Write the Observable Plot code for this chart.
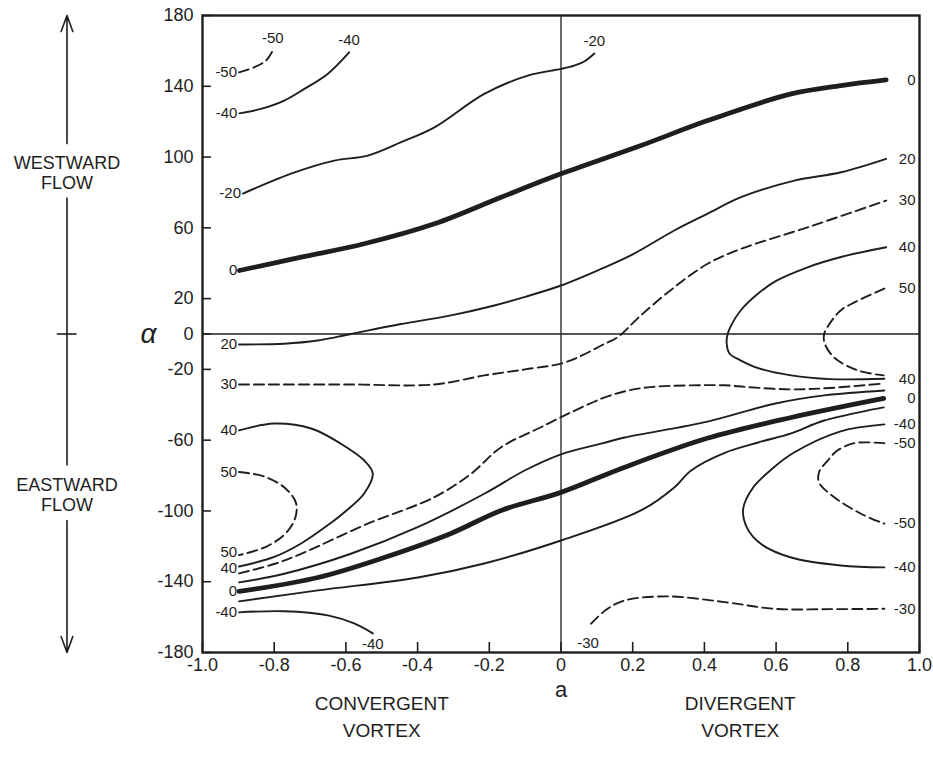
<!DOCTYPE html>
<html>
<head>
<meta charset="utf-8">
<script src="https://cdn.jsdelivr.net/npm/d3@7"></script>
<script src="https://cdn.jsdelivr.net/npm/@observablehq/plot@0.6"></script>
<style>
  body { margin: 0; background: #fff; }
  #chart svg { display: block; }
</style>
</head>
<body>
<div id="chart"></div>
<script>
// ---- axes ----
const xTicks = [-1, -0.8, -0.6, -0.4, -0.2, 0, 0.2, 0.4, 0.6, 0.8, 1];
const yTicks = [180, 140, 100, 60, 20, 0, -20, -60, -100, -140, -180];

// ---- contour lines, points as [a, alpha] ----
const cTopM50 = [[-0.898, 147.9], [-0.856, 150.7], [-0.823, 154.5], [-0.804, 160.2]];
const cTopM40 = [[-0.897, 124.7], [-0.837, 127.2], [-0.772, 131.9], [-0.716, 138.5], [-0.651, 147], [-0.591, 159.2]];
const cTopM20 = [[-0.887, 79.4], [-0.745, 91.2], [-0.632, 98], [-0.539, 100.8], [-0.446, 108.4], [-0.353, 116.8],
                 [-0.214, 135.7], [-0.093, 146], [0, 149.8], [0.037, 151.7], [0.065, 154], [0.093, 158.5]];
const cTop0 = [[-0.897, 35.9], [-0.725, 43.4], [-0.549, 51], [-0.353, 62.3], [-0.167, 77.3], [0, 90.5],
               [0.223, 106.5], [0.409, 120.6], [0.642, 135.7], [0.781, 140.4], [0.907, 143.6]];
const cTop20 = [[-0.898, -5.9], [-0.772, -5.5], [-0.679, -3.7], [-0.586, 0], [-0.45, 5.5], [-0.307, 10.5],
                [-0.186, 16.1], [-0.1, 21], [0, 27.4], [0.112, 36.8], [0.2, 45], [0.316, 58.5], [0.409, 68],
                [0.502, 77.3], [0.651, 86.7], [0.781, 91.4], [0.907, 99]];
const cTop30 = [[-0.898, -28.5], [-0.6, -28.5], [-0.353, -28.5], [-0.214, -23.4], [-0.1, -20], [0, -16.7],
                [0.06, -12], [0.112, -6.5], [0.158, -1.8], [0.22, 10], [0.316, 26.4], [0.409, 39.7],
                [0.502, 48.1], [0.688, 60.3], [0.907, 75.4]];
const cRight40 = [[0.907, 49], [0.781, 43.5], [0.688, 37.7], [0.6, 30], [0.549, 22.7], [0.5, 13], [0.475, 5],
                  [0.465, 0], [0.462, -5], [0.47, -11], [0.502, -15], [0.55, -19.3], [0.642, -23.4],
                  [0.75, -25.5], [0.902, -25.3]];
const cRight50 = [[0.902, 25.7], [0.82, 18], [0.78, 13.3], [0.75, 6], [0.734, 0], [0.735, -5], [0.762, -13.3],
                  [0.828, -20.6], [0.9, -23.4]];
const cLeft40 = [[-0.898, -54.5], [-0.8, -50.6], [-0.697, -53.4], [-0.614, -62], [-0.549, -71.5], [-0.525, -78.8],
                 [-0.549, -90.1], [-0.6, -100], [-0.65, -108], [-0.725, -118.4], [-0.8, -126], [-0.898, -131.4]];
const cLeft50 = [[-0.898, -78], [-0.828, -80.5], [-0.77, -87], [-0.74, -95], [-0.74, -103], [-0.765, -112],
                 [-0.82, -120], [-0.898, -125]];
const cLow30 = [[-0.898, -135.3], [-0.8, -130], [-0.725, -124.2], [-0.539, -107.2], [-0.353, -92.2],
                [-0.251, -79], [-0.167, -64], [-0.056, -52.7], [0, -47], [0.112, -36.6], [0.176, -32.5],
                [0.25, -30], [0.455, -29], [0.52, -30], [0.642, -31.3], [0.75, -30.5], [0.9, -28]];
const cLow20 = [[-0.898, -140.4], [-0.772, -135.5], [-0.586, -124.2], [-0.4, -109.2], [-0.214, -90.3],
                [-0.1, -77], [0, -68], [0.112, -62], [0.177, -58.5], [0.409, -49.5], [0.595, -39.4],
                [0.734, -34.7], [0.902, -31.9]];
const cLow0 = [[-0.898, -145.5], [-0.678, -137.6], [-0.493, -126.3], [-0.307, -112.7], [-0.167, -99.7],
               [0, -89.5], [0.176, -75.4], [0.41, -58.8], [0.642, -47.2], [0.9, -36.4]];
const cLowM20 = [[-0.898, -151.1], [-0.678, -144.9], [-0.399, -137.6], [-0.214, -129.7], [0, -116.7],
                 [0.223, -99.7], [0.316, -86.7], [0.363, -77.1], [0.455, -67.3], [0.55, -61.3], [0.642, -56.2],
                 [0.734, -48.9], [0.9, -41.5]];
const cLeftM40 = [[-0.898, -157.3], [-0.772, -156.7], [-0.65, -159], [-0.577, -163.6], [-0.525, -169.2]];
const cRightM40 = [[0.902, -51.1], [0.78, -55], [0.65, -67], [0.59, -76], [0.535, -87], [0.508, -99],
                   [0.52, -110], [0.56, -119], [0.642, -126.3], [0.78, -130.8], [0.902, -131.9]];
const cRightM50 = [[0.902, -61.7], [0.818, -61.7], [0.77, -66], [0.744, -71.5], [0.72, -78], [0.72, -84],
                   [0.762, -92.2], [0.837, -101.6], [0.902, -107.2]];
const cBottomM30 = [[0.084, -163.7], [0.125, -156], [0.177, -150.6], [0.298, -148.3], [0.456, -151.5],
                    [0.595, -155.3], [0.75, -155.5], [0.902, -155.3]];

// level of each line and where its number is written
const contourTable = [
  {id: "topM50", level: -50, pts: cTopM50, start: "left", end: "top"},
  {id: "topM40", level: -40, pts: cTopM40, start: "left", end: "top"},
  {id: "topM20", level: -20, pts: cTopM20, start: "left", end: "top"},
  {id: "top0", level: 0, pts: cTop0, start: "left", end: "right"},
  {id: "top20", level: 20, pts: cTop20, start: "left", end: "right"},
  {id: "top30", level: 30, pts: cTop30, start: "left", end: "right"},
  {id: "right40", level: 40, pts: cRight40, start: "right", end: "right"},
  {id: "right50", level: 50, pts: cRight50, start: "right", end: null},
  {id: "left40", level: 40, pts: cLeft40, start: "left", end: "leftDown"},
  {id: "left50", level: 50, pts: cLeft50, start: "left", end: "leftUp"},
  {id: "low30", level: 30, pts: cLow30, start: null, end: null},
  {id: "low20", level: 20, pts: cLow20, start: null, end: null},
  {id: "low0", level: 0, pts: cLow0, start: "left", end: "right"},
  {id: "lowM20", level: -20, pts: cLowM20, start: null, end: null},
  {id: "leftM40", level: -40, pts: cLeftM40, start: "left", end: "bottom"},
  {id: "rightM40", level: -40, pts: cRightM40, start: "right", end: "right"},
  {id: "rightM50", level: -50, pts: cRightM50, start: "right", end: "right"},
  {id: "bottomM30", level: -30, pts: cBottomM30, start: "bottom2", end: "right"}
];

const rows = contourTable.flatMap(c => c.pts.map(([x, y]) => ({id: c.id, level: c.level, x, y})));
const labels = contourTable.flatMap(c => {
  const out = [];
  const p0 = c.pts[0], p1 = c.pts[c.pts.length - 1];
  if (c.start) out.push({text: String(c.level), side: c.start, x: p0[0], y: p0[1]});
  if (c.end) out.push({text: String(c.level), side: c.end, x: p1[0], y: p1[1]});
  return out;
});
const isDashed = d => Math.abs(d.level) === 30 || Math.abs(d.level) === 50;
const isThick = d => d.level === 0;

// ---- side annotations ----
const flowArrowHeads = [{x1: -1.378, y1: 107.6, x2: -1.378, y2: 180}, {x1: -1.378, y1: -105.4, x2: -1.378, y2: -180}];
const flowArrowStems = [{x1: -1.378, y1: 77.1, x2: -1.378, y2: -74.3}];
const flowLabels = [{text: "WESTWARD\nFLOW", y: 91}, {text: "EASTWARD\nFLOW", y: -91}];
const vortexLabels = [{text: "CONVERGENT\nVORTEX", x: -0.5}, {text: "DIVERGENT\nVORTEX", x: 0.5}];

const fmtX = d => d === 0 ? "0" : d.toFixed(1);
const labelFont = 15;
const ink = "#1e1e1e";

const chart = Plot.plot({
  width: 933,
  height: 767,
  marginLeft: 202,
  marginRight: 14,
  marginTop: 15,
  marginBottom: 115,
  style: {fontFamily: "'Liberation Sans', Arial, sans-serif", fontSize: "18px", color: ink, background: "#fff"},
  x: {domain: [-1, 1], ticks: xTicks, tickFormat: fmtX, tickSize: 0, tickPadding: 6, label: null},
  y: {domain: [-180, 180], ticks: yTicks, tickFormat: d => String(d), tickSize: 0, tickPadding: 9, label: null},
  marks: [
    Plot.ruleX([0], {stroke: ink, strokeWidth: 1.3}),
    Plot.ruleY([0], {stroke: ink, strokeWidth: 1.3}),
    // inward tick marks
    Plot.ruleY(yTicks, {x1: -1, x2: -0.975, stroke: ink, strokeWidth: 1.6}),
    Plot.ruleX(xTicks, {y1: -180, y2: -174.3, stroke: ink, strokeWidth: 1.6}),
    Plot.line(rows.filter(d => !isDashed(d) && !isThick(d)), {x: "x", y: "y", z: "id", curve: "catmull-rom", stroke: ink, strokeWidth: 1.9}),
    Plot.line(rows.filter(isDashed), {x: "x", y: "y", z: "id", curve: "catmull-rom", stroke: ink, strokeWidth: 1.9, strokeDasharray: "10,5"}),
    Plot.line(rows.filter(isThick), {x: "x", y: "y", z: "id", curve: "catmull-rom", stroke: ink, strokeWidth: 4.8}),
    Plot.frame({stroke: ink, strokeWidth: 2.4}),
    // contour numbers
    Plot.text(labels.filter(d => d.side === "left"), {x: "x", y: "y", text: "text", textAnchor: "end", dx: -2, fontSize: labelFont, fill: ink}),
    Plot.text(labels.filter(d => d.side === "leftUp"), {x: "x", y: "y", text: "text", textAnchor: "end", dx: -2, dy: -3, fontSize: labelFont, fill: ink}),
    Plot.text(labels.filter(d => d.side === "leftDown"), {x: "x", y: "y", text: "text", textAnchor: "end", dx: -2, dy: 1.5, fontSize: labelFont, fill: ink}),
    Plot.text(labels.filter(d => d.side === "right"), {y: "y", text: "text", frameAnchor: "right", textAnchor: "end", dx: -4, fontSize: labelFont, fill: ink}),
    Plot.text(labels.filter(d => d.side === "top"), {x: "x", y: "y", text: "text", dy: -12, fontSize: labelFont, fill: ink}),
    Plot.text(labels.filter(d => d.side === "bottom"), {x: "x", y: "y", text: "text", dy: 11, fontSize: labelFont, fill: ink}),
    Plot.text(labels.filter(d => d.side === "bottom2"), {x: "x", y: "y", text: "text", dx: -3, dy: 20, fontSize: labelFont, fill: ink}),
    // left flow arrow
    Plot.link(flowArrowStems, {x1: "x1", y1: "y1", x2: "x2", y2: "y2", stroke: ink, strokeWidth: 1.6}),
    Plot.arrow(flowArrowHeads, {x1: "x1", y1: "y1", x2: "x2", y2: "y2", stroke: ink, strokeWidth: 1.6, headLength: 16, headAngle: 40}),
    Plot.ruleY([0], {x1: -1.405, x2: -1.35, stroke: ink, strokeWidth: 1.6}),
    Plot.text(flowLabels, {x: () => -1.378, y: "y", text: "text", fontSize: 18, lineHeight: 1.1, fill: ink}),
    // axis symbols
    Plot.text(["α"], {y: () => 0, frameAnchor: "left", dx: -62, fontSize: 28, fontStyle: "italic", fill: ink}),
    Plot.text(["a"], {x: () => 0, frameAnchor: "bottom", dy: 44, fontSize: 22, fill: ink}),
    Plot.text(vortexLabels, {x: "x", text: "text", frameAnchor: "bottom", dy: 84, fontSize: 19, lineHeight: 1.37, fill: ink})
  ]
});
document.getElementById("chart").appendChild(chart);
</script>
</body>
</html>
